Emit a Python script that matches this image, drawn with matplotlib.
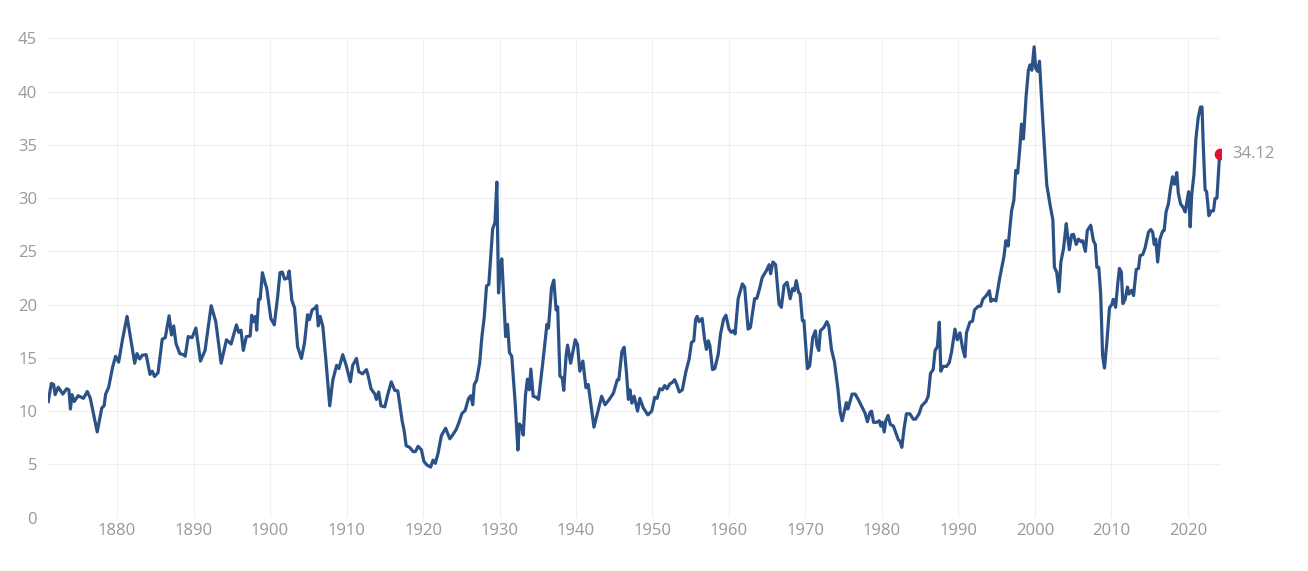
import numpy as np
import matplotlib.pyplot as plt

# Shiller PE (CAPE)
year = [
    1871.0, 1871.4, 1871.7, 1871.9, 1872.3, 1872.9, 1873.4, 1873.7, 1873.9, 1874.1,
    1874.4, 1874.9, 1875.6, 1876.1, 1876.5, 1877.4, 1878.0, 1878.3, 1878.5, 1878.9,
    1879.4, 1879.8, 1880.2, 1880.7, 1881.3, 1881.7, 1882.3, 1882.6, 1882.95, 1883.3,
    1883.8, 1884.3, 1884.6, 1884.9, 1885.35, 1885.9, 1886.3, 1886.8, 1887.1, 1887.4,
    1887.7, 1888.2, 1888.7, 1888.9, 1889.3, 1889.8, 1890.3, 1890.9, 1891.5, 1892.3,
    1892.9, 1893.6, 1894.3, 1894.9, 1895.6, 1895.9, 1896.2, 1896.5, 1896.9, 1897.4,
    1897.6, 1897.8, 1898.1, 1898.25, 1898.5, 1898.7, 1899.0, 1899.4, 1899.55, 1900.1,
    1900.55, 1901.0, 1901.3, 1901.6, 1901.9, 1902.3, 1902.5, 1902.85, 1903.2, 1903.6,
    1904.1, 1904.5, 1904.9, 1905.15, 1905.5, 1905.9, 1906.1, 1906.3, 1906.55, 1906.9,
    1907.3, 1907.8, 1908.2, 1908.7, 1909.0, 1909.5, 1909.95, 1910.5, 1910.8, 1911.3,
    1911.6, 1912.1, 1912.6, 1912.8, 1913.2, 1913.7, 1913.9, 1914.2, 1914.5, 1915.0,
    1915.4, 1915.85, 1916.3, 1916.7, 1917.3, 1917.5, 1917.8, 1918.25, 1918.7, 1919.0,
    1919.35, 1919.8, 1920.1, 1920.5, 1921.0, 1921.3, 1921.6, 1921.95, 1922.4, 1922.95,
    1923.5, 1924.0, 1924.35, 1924.65, 1925.1, 1925.5, 1925.95, 1926.25, 1926.5, 1926.7,
    1927.0, 1927.4, 1927.7, 1928.0, 1928.3, 1928.6, 1928.9, 1929.1, 1929.4, 1929.65,
    1929.87, 1930.1, 1930.3, 1930.5, 1930.8, 1931.05, 1931.3, 1931.6, 1932.05, 1932.4,
    1932.6, 1932.9, 1933.1, 1933.4, 1933.65, 1933.9, 1934.1, 1934.4, 1934.8, 1935.1,
    1935.65, 1936.2, 1936.4, 1936.8, 1937.1, 1937.4, 1937.6, 1937.9, 1938.2, 1938.4,
    1938.7, 1938.9, 1939.3, 1939.9, 1940.2, 1940.5, 1940.9, 1941.3, 1941.6, 1942.35,
    1942.9, 1943.35, 1943.8, 1944.35, 1944.9, 1945.4, 1945.6, 1946.0, 1946.3, 1946.6,
    1946.85, 1947.05, 1947.3, 1947.6, 1948.05, 1948.35, 1948.8, 1949.4, 1949.9, 1950.3,
    1950.6, 1950.95, 1951.3, 1951.6, 1951.9, 1952.25, 1952.6, 1952.9, 1953.15, 1953.5,
    1953.9, 1954.35, 1954.8, 1955.1, 1955.4, 1955.65, 1955.85, 1956.1, 1956.5, 1956.8,
    1957.05, 1957.3, 1957.5, 1957.85, 1958.15, 1958.6, 1958.9, 1959.3, 1959.6, 1960.0,
    1960.3, 1960.6, 1960.8, 1961.2, 1961.75, 1962.05, 1962.5, 1962.8, 1963.35, 1963.65,
    1964.0, 1964.35, 1964.9, 1965.25, 1965.45, 1965.75, 1966.1, 1966.55, 1966.85, 1967.2,
    1967.6, 1968.0, 1968.3, 1968.55, 1968.8, 1969.1, 1969.3, 1969.6, 1969.8, 1970.25,
    1970.55, 1970.95, 1971.3, 1971.5, 1971.75, 1971.95, 1972.4, 1972.8, 1973.05, 1973.4,
    1973.8, 1974.25, 1974.55, 1974.8, 1975.35, 1975.55, 1976.1, 1976.5, 1976.9, 1977.35,
    1977.8, 1978.1, 1978.45, 1978.65, 1978.9, 1979.3, 1979.65, 1979.85, 1980.05, 1980.3,
    1980.5, 1980.8, 1981.1, 1981.5, 1981.9, 1982.15, 1982.35, 1982.6, 1982.9, 1983.2,
    1983.65, 1984.1, 1984.4, 1984.85, 1985.2, 1985.75, 1986.05, 1986.35, 1986.7, 1986.95,
    1987.25, 1987.5, 1987.7, 1988.0, 1988.45, 1988.8, 1989.1, 1989.55, 1989.85, 1990.2,
    1990.55, 1990.85, 1991.05, 1991.5, 1991.85, 1992.1, 1992.6, 1992.9, 1993.2, 1993.7,
    1994.05, 1994.25, 1994.55, 1994.9, 1995.4, 1995.95, 1996.2, 1996.5, 1996.95, 1997.25,
    1997.5, 1997.75, 1998.05, 1998.25, 1998.5, 1998.85, 1999.15, 1999.35, 1999.6, 1999.9,
    2000.1, 2000.35, 2000.6, 2000.9, 2001.2, 2001.55, 2002.0, 2002.35, 2002.55, 2002.85,
    2003.15, 2003.4, 2003.75, 2004.1, 2004.3, 2004.5, 2004.8, 2005.05, 2005.4, 2005.7,
    2006.05, 2006.25, 2006.6, 2006.85, 2007.3, 2007.65, 2007.9, 2008.1, 2008.35, 2008.6,
    2008.85, 2009.1, 2009.4, 2009.75, 2010.05, 2010.25, 2010.55, 2010.85, 2011.05, 2011.3,
    2011.5, 2011.8, 2012.1, 2012.3, 2012.65, 2012.9, 2013.25, 2013.55, 2013.75, 2014.1,
    2014.4, 2014.85, 2015.15, 2015.4, 2015.6, 2015.8, 2016.05, 2016.35, 2016.7, 2016.9,
    2017.15, 2017.45, 2017.75, 2018.0, 2018.25, 2018.55, 2018.75, 2019.05, 2019.4, 2019.65,
    2020.1, 2020.3, 2020.5, 2020.8, 2021.05, 2021.35, 2021.65, 2021.85, 2022.0, 2022.25,
    2022.45, 2022.75, 2023.05, 2023.35, 2023.55, 2023.8, 2024.15,
]
cape = [
    10.9, 12.6, 12.5, 11.55, 12.25, 11.6, 12.1, 12.0, 10.2, 11.55,
    10.9, 11.45, 11.2, 11.85, 11.2, 8.05, 10.3, 10.5, 11.6, 12.25,
    14.1, 15.15, 14.6, 16.7, 18.9, 17.15, 14.5, 15.4, 14.9, 15.25,
    15.3, 13.45, 13.75, 13.25, 13.6, 16.75, 16.9, 18.95, 17.15, 18.0,
    16.35, 15.4, 15.3, 15.15, 17.0, 16.9, 17.8, 14.7, 15.7, 19.9,
    18.4, 14.5, 16.7, 16.3, 18.1, 17.4, 17.6, 15.7, 17.0, 17.05,
    19.0, 18.4, 18.9, 17.6, 20.5, 20.5, 23.0, 21.9, 21.6, 18.7,
    18.1, 20.8, 23.0, 23.06, 22.4, 22.5, 23.15, 20.4, 19.7, 16.05,
    14.95, 16.4, 19.05, 18.6, 19.5, 19.7, 19.9, 18.0, 18.9, 17.95,
    14.8, 10.5, 12.9, 14.3, 14.0, 15.3, 14.3, 12.75, 14.3, 14.95,
    13.7, 13.5, 13.9, 13.4, 12.1, 11.6, 11.1, 11.8, 10.5, 10.4,
    11.6, 12.75, 11.95, 11.9, 8.95, 8.3, 6.75, 6.6, 6.2, 6.2,
    6.7, 6.35, 5.3, 4.95, 4.75, 5.4, 5.1, 6.0, 7.7, 8.4,
    7.4, 7.9, 8.3, 8.85, 9.8, 10.05, 11.2, 11.45, 10.6, 12.5,
    12.9, 14.5, 17.0, 18.8, 21.75, 21.9, 25.1, 27.1, 27.7, 31.5,
    21.1, 23.6, 24.3, 21.45, 17.0, 18.15, 15.5, 15.15, 10.75, 6.35,
    8.8, 8.55, 7.75, 11.55, 13.0, 12.0, 13.95, 11.4, 11.3, 11.1,
    14.5, 18.15, 17.8, 21.6, 22.3, 19.5, 19.8, 13.3, 13.1, 11.95,
    15.15, 16.2, 14.5, 16.7, 16.25, 13.75, 14.7, 12.2, 12.5, 8.5,
    10.1, 11.4, 10.6, 11.1, 11.7, 12.95, 12.95, 15.6, 16.0, 13.6,
    11.1, 12.0, 10.75, 11.4, 10.0, 11.2, 10.3, 9.65, 10.0, 11.3,
    11.2, 12.1, 12.0, 12.4, 12.1, 12.55, 12.7, 12.95, 12.55, 11.8,
    12.0, 13.65, 14.9, 16.45, 16.6, 18.65, 18.9, 18.4, 18.7, 16.8,
    15.8, 16.6, 16.15, 13.9, 14.0, 15.35, 17.25, 18.65, 19.0, 17.7,
    17.4, 17.55, 17.25, 20.55, 21.95, 21.65, 17.7, 17.85, 20.55, 20.6,
    21.5, 22.55, 23.2, 23.75, 22.9, 24.0, 23.75, 20.05, 19.75, 21.8,
    22.1, 20.55, 21.5, 21.3, 22.25, 21.15, 21.0, 18.5, 18.5, 14.0,
    14.25, 16.9, 17.55, 16.15, 15.7, 17.55, 17.85, 18.4, 18.0, 15.8,
    14.6, 12.05, 9.9, 9.1, 10.8, 10.2, 11.6, 11.6, 11.1, 10.45,
    9.8, 9.0, 9.9, 10.0, 8.95, 8.95, 9.1, 8.6, 8.95, 8.05,
    9.1, 9.6, 8.75, 8.6, 7.8, 7.3, 7.2, 6.6, 8.4, 9.75,
    9.75, 9.25, 9.25, 9.75, 10.5, 10.9, 11.4, 13.55, 13.9, 15.7,
    16.05, 18.35, 13.75, 14.2, 14.2, 14.55, 15.55, 17.7, 16.7, 17.35,
    15.9, 15.1, 17.35, 18.35, 18.45, 19.5, 19.85, 19.85, 20.5, 20.9,
    21.3, 20.3, 20.5, 20.35, 22.5, 24.5, 26.0, 25.5, 28.8, 29.8,
    32.6, 32.35, 34.9, 36.95, 35.55, 39.55, 42.0, 42.5, 42.0, 44.2,
    42.2, 41.9, 42.85, 38.9, 35.25, 31.25, 29.3, 27.95, 23.5, 23.05,
    21.2, 24.0, 25.3, 27.6, 26.3, 25.15, 26.55, 26.6, 25.65, 26.15,
    25.9, 26.0, 25.0, 26.95, 27.45, 26.0, 25.65, 23.5, 23.5, 21.0,
    15.2, 14.05, 16.4, 19.7, 20.0, 20.5, 19.75, 22.1, 23.4, 23.05,
    20.1, 20.5, 21.65, 21.0, 21.35, 20.85, 23.3, 23.4, 24.6, 24.7,
    25.3, 26.8, 27.05, 26.8, 25.65, 26.15, 24.0, 26.15, 26.9, 26.95,
    28.7, 29.45, 31.0, 32.0, 31.3, 32.4, 30.45, 29.45, 29.1, 28.7,
    30.6, 27.3, 30.3, 32.25, 35.55, 37.55, 38.55, 38.55, 35.25, 30.8,
    30.6, 28.35, 28.8, 28.8, 29.95, 30.0, 34.12,
]
x_ticks = list(range(1880, 2021, 10))
y_ticks = list(range(0, 46, 5))

line_color = '#2b5287'
dot_color = '#e4102b'
text_grey = '#9b9897'

plt.rcParams['font.family'] = ['Open Sans', 'DejaVu Sans']

fig = plt.figure(figsize=(13.08, 5.71), dpi=100)
ax = fig.add_axes([0.0369, 0.0934, 0.8964, 0.8395])

ax.plot(year, cape, color=line_color, linewidth=2.3, solid_joinstyle='round', zorder=3)
ax.scatter([year[-1]], [cape[-1]], s=55, color=dot_color, zorder=4)
ax.annotate('{:.2f}'.format(cape[-1]), (year[-1], cape[-1]), xytext=(9, 0),
            textcoords='offset points', va='center', ha='left',
            fontsize=12, color=text_grey, annotation_clip=False)

ax.set_xlim(1871, 2024.3)
ax.set_ylim(0, 45)
ax.set_xticks(x_ticks)
ax.set_yticks(y_ticks)
ax.grid(True, color='#f0f0f0', linewidth=0.9)
ax.set_axisbelow(True)
for s in ax.spines.values():
    s.set_visible(False)
ax.tick_params(axis='both', length=0, labelsize=12, colors=text_grey)
ax.tick_params(axis='y', pad=8)
ax.tick_params(axis='x', pad=4)

fig.savefig('out.png', dpi=100)
